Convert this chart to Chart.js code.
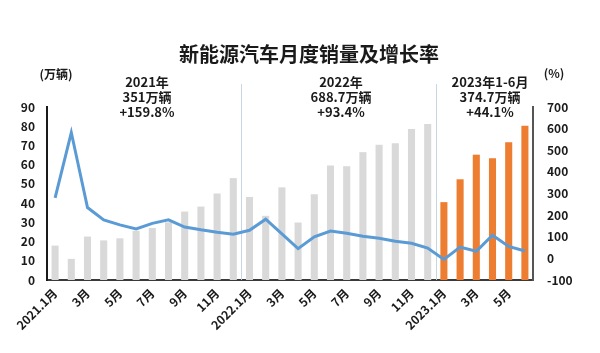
<!DOCTYPE html>
<html>
<head>
<meta charset="utf-8">
<script src="https://cdn.jsdelivr.net/npm/chart.js@4.4.1/dist/chart.umd.min.js"></script>
<style>
  html, body { margin: 0; padding: 0; background: #fff; }
  #wrap { width: 600px; height: 353px; position: relative; }
</style>
</head>
<body>
<div id="wrap"><canvas id="chart" width="600" height="353"></canvas></div>
<script>
// 月份 (类目)
const months = [
  "2021.1月", "2月", "3月", "4月", "5月", "6月", "7月", "8月", "9月", "10月", "11月", "12月",
  "2022.1月", "2月", "3月", "4月", "5月", "6月", "7月", "8月", "9月", "10月", "11月", "12月",
  "2023.1月", "2月", "3月", "4月", "5月", "6月"
];

// 月度销量 (万辆)
const salesVolume = [
  17.9, 11.0, 22.6, 20.6, 21.7, 25.6, 27.1, 30.0, 35.6, 38.2, 45.0, 53.0,
  43.2, 33.4, 48.2, 29.9, 44.6, 59.6, 59.2, 66.5, 70.4, 71.2, 78.5, 81.2,
  40.5, 52.4, 65.2, 63.4, 71.7, 80.3
];

// 同比增长率 (%)
const growthRate = [
  280, 582, 235, 178, 155, 136, 162, 178, 145, 132, 121, 112,
  130, 181, 113, 45, 100, 126, 116, 102, 93, 79, 70, 48,
  -5, 52, 33, 107, 55, 34
];

// 年度汇总文字
const yearNoteLines = [
  ["2021年", "351万辆", "+159.8%"],
  ["2022年", "688.7万辆", "+93.4%"],
  ["2023年1-6月", "374.7万辆", "+44.1%"]
];

// 年份分隔线所在的类目 (在此类目之前画线)
const yearStarts = ["2022.1月", "2023.1月"];

const FONT = "'Noto Sans CJK SC', 'Noto Sans', sans-serif";
Chart.defaults.font.family = FONT;

const highlightIdx = months.indexOf("2023.1月");
const barColors = months.map((m, i) => (i >= highlightIdx ? "#ed7d31" : "#d9d9d9"));

// 标题、单位、年度文字、分隔线
const decorPlugin = {
  id: "decor",
  beforeDatasetsDraw(chart) {
    const ctx = chart.ctx;
    const x = chart.scales.x;
    const area = chart.chartArea;
    ctx.save();
    ctx.strokeStyle = "#c9d5e2";
    ctx.lineWidth = 1;
    yearStarts.forEach((m) => {
      const i = months.indexOf(m);
      const px = Math.round((x.getPixelForValue(i - 1) + x.getPixelForValue(i)) / 2) + 0.5;
      ctx.beginPath();
      ctx.moveTo(px, 84);
      ctx.lineTo(px, area.bottom);
      ctx.stroke();
    });
    ctx.restore();
  },
  afterDraw(chart) {
    const ctx = chart.ctx;
    ctx.save();
    ctx.fillStyle = "#1a1a1a";
    ctx.textAlign = "center";
    ctx.textBaseline = "middle";
    ctx.font = "bold 20px " + FONT;
    ctx.fillText("新能源汽车月度销量及增长率", 309, 54);

    ctx.font = "bold 12px " + FONT;
    ctx.fillText("(万辆)", 56, 74);
    ctx.fillText("(%)", 554, 73);

    ctx.font = "bold 13px " + FONT;
    const noteX = [147, 341, 490];
    yearNoteLines.forEach((lines, k) => {
      lines.forEach((t, j) => {
        ctx.fillText(t, noteX[k], 82 + j * 15);
      });
    });
    ctx.restore();
  }
};

new Chart(document.getElementById("chart"), {
  data: {
    labels: months,
    datasets: [
      {
        type: "line",
        label: "增长率",
        data: growthRate,
        yAxisID: "y1",
        borderColor: "#5b9bd5",
        borderWidth: 3,
        pointRadius: 0,
        tension: 0,
        order: 0
      },
      {
        type: "bar",
        label: "销量",
        data: salesVolume,
        yAxisID: "y",
        backgroundColor: barColors,
        barPercentage: 0.46,
        categoryPercentage: 0.95,
        order: 1
      }
    ]
  },
  options: {
    responsive: false,
    animation: false,
    layout: { padding: { top: 107, left: 0, right: 0, bottom: 0 } },
    plugins: {
      legend: { display: false },
      tooltip: { enabled: false }
    },
    scales: {
      x: {
        grid: { display: false, drawTicks: false },
        border: { color: "#3a3a3a", width: 2 },
        ticks: {
          autoSkip: false,
          maxRotation: 45,
          minRotation: 45,
          padding: 6,
          color: "#1a1a1a",
          font: { size: 12, weight: "bold" },
          callback: (v, i) => (i % 2 === 0 ? months[i] : "")
        },
        afterFit(s) { s.height = 73; }
      },
      y: {
        position: "left",
        min: 0,
        max: 90,
        grid: { display: false, drawTicks: false },
        border: { color: "#1a1a1a", width: 2 },
        ticks: {
          stepSize: 10,
          padding: 12,
          color: "#1a1a1a",
          font: { size: 12, weight: "bold" }
        },
        afterFit(s) { s.width = 47; }
      },
      y1: {
        position: "right",
        min: -100,
        max: 700,
        grid: { display: false, drawTicks: false },
        border: { color: "#555", width: 2 },
        ticks: {
          stepSize: 100,
          padding: 14,
          color: "#1a1a1a",
          font: { size: 12, weight: "bold" }
        },
        afterFit(s) { s.width = 67; }
      }
    }
  },
  plugins: [decorPlugin]
});
</script>
</body>
</html>
